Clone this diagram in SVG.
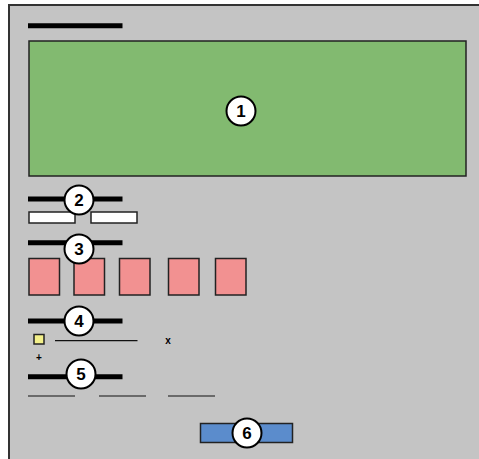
<svg xmlns="http://www.w3.org/2000/svg" width="479" height="459" viewBox="0 0 479 459">
  <style>
    .frame { fill: #c4c4c4; stroke: #333; stroke-width: 2; }
    .bar { stroke: #000; stroke-width: 5; }
    .thin { stroke: #111; stroke-width: 1.2; }
    .box { stroke: #222; stroke-width: 1.5; }
    .badge circle { fill: #fff; stroke: #000; stroke-width: 2; }
    .badge text { font-family: "Liberation Sans", Arial, sans-serif; font-weight: bold; font-size: 17px; text-anchor: middle; fill: #000; }
    .glyph { font-family: "Liberation Sans", Arial, sans-serif; font-weight: bold; font-size: 10px; text-anchor: middle; fill: #000; }
  </style>

  <!-- page frame -->
  <rect class="frame" x="9" y="5" width="480" height="470"/>

  <!-- header -->
  <g id="header">
    <line class="bar" x1="28" y1="25.8" x2="122.5" y2="25.8"/>
  </g>

  <!-- 1: main panel -->
  <g id="panel">
    <rect x="29" y="41" width="437" height="135" fill="#82ba70" stroke="#222" stroke-width="1.5"/>
    <g class="badge"><circle cx="241" cy="111" r="14.5"/><text x="241" y="117">1</text></g>
  </g>

  <!-- 2: two input fields -->
  <g id="fields">
    <line class="bar" x1="28" y1="199" x2="122.5" y2="199"/>
    <rect class="box" x="29" y="212" width="46" height="11" fill="#fff"/>
    <rect class="box" x="91" y="212" width="46" height="11" fill="#fff"/>
    <g class="badge"><circle cx="79" cy="200" r="14.5"/><text x="79" y="206">2</text></g>
  </g>

  <!-- 3: tiles -->
  <g id="tiles">
    <line class="bar" x1="28" y1="242.7" x2="122.5" y2="242.7"/>
    <rect class="box" x="29" y="258.5" width="30.5" height="36.5" fill="#f29191"/>
    <rect class="box" x="74" y="258.5" width="30.5" height="36.5" fill="#f29191"/>
    <rect class="box" x="119.5" y="258.5" width="30.5" height="36.5" fill="#f29191"/>
    <rect class="box" x="168.5" y="258.5" width="30.5" height="36.5" fill="#f29191"/>
    <rect class="box" x="215.5" y="258.5" width="30.5" height="36.5" fill="#f29191"/>
    <g class="badge"><circle cx="79" cy="249" r="14.5"/><text x="79" y="255">3</text></g>
  </g>

  <!-- 4: list row -->
  <g id="list">
    <line class="bar" x1="28" y1="321" x2="122.5" y2="321"/>
    <rect class="box" x="34" y="334.5" width="10" height="9.5" fill="#f3f08a"/>
    <line class="thin" x1="55" y1="340.7" x2="137.5" y2="340.7"/>
    <text class="glyph" x="168" y="344">x</text>
    <text class="glyph" x="39" y="361">+</text>
    <g class="badge"><circle cx="79" cy="321" r="14.5"/><text x="79" y="327">4</text></g>
  </g>

  <!-- 5: text lines -->
  <g id="lines">
    <line class="bar" x1="28" y1="376.7" x2="122.5" y2="376.7"/>
    <line class="thin" x1="28" y1="396" x2="75" y2="396"/>
    <line class="thin" x1="99" y1="396" x2="146" y2="396"/>
    <line class="thin" x1="168" y1="396" x2="215" y2="396"/>
    <g class="badge"><circle cx="81" cy="374" r="14.5"/><text x="81" y="380">5</text></g>
  </g>

  <!-- 6: button -->
  <g id="button">
    <rect class="box" x="200.5" y="423.5" width="92" height="19" fill="#5b8ccc"/>
    <g class="badge"><circle cx="247" cy="433" r="14.5"/><text x="247" y="439">6</text></g>
  </g>

  <g id="connectors"/>
</svg>
